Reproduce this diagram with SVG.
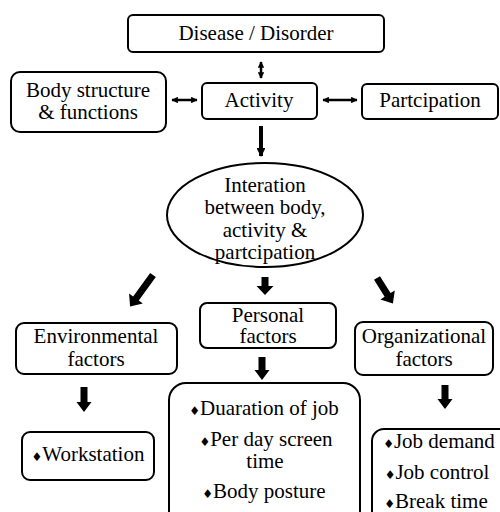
<svg xmlns="http://www.w3.org/2000/svg" width="500" height="512" viewBox="0 0 500 512">
<defs>
<style>
.box{fill:#fff;stroke:#000;stroke-width:2}
.ln{stroke:#000;fill:none}
.blk{fill:#000}
</style>
<marker id="dh" viewBox="0 0 10 10" refX="9" refY="5" markerWidth="2.6" markerHeight="2.6" orient="auto-start-reverse" markerUnits="strokeWidth">
<path d="M0,0 L10,5 L0,10 Z" fill="#000"/>
</marker>
<marker id="dn" viewBox="0 0 10 10" refX="9" refY="5" markerWidth="2.2" markerHeight="2.2" orient="auto" markerUnits="strokeWidth">
<path d="M0,0 L10,5 L0,10 Z" fill="#000"/>
</marker>
</defs>
<rect width="500" height="512" fill="#fff"/>
<g font-family="Liberation Serif, DejaVu Serif, serif" font-size="21" text-anchor="middle" fill="#000">
<g id="disease">
<rect class="box" x="128" y="15" width="256" height="37" rx="5"/>
<text x="256" y="40">Disease / Disorder</text>
</g>
<g id="body">
<rect class="box" x="11" y="72" width="155" height="60" rx="9"/>
<text x="88" y="97">Body structure</text>
<text x="88" y="119">&amp; functions</text>
</g>
<g id="activity">
<rect class="box" x="202" y="83" width="115" height="36" rx="5"/>
<text x="259" y="107">Activity</text>
</g>
<g id="participation">
<rect class="box" x="362" y="84" width="136" height="35" rx="5"/>
<text x="430" y="107">Partcipation</text>
</g>
<g id="interaction">
<ellipse class="box" cx="265" cy="215" rx="98" ry="52"/>
<text x="265" y="192">Interation</text>
<text x="265" y="214">between body,</text>
<text x="265" y="237">activity &amp;</text>
<text x="265" y="259">partcipation</text>
</g>
<g id="environmental">
<rect class="box" x="16" y="323" width="161" height="51" rx="8"/>
<text x="96" y="343">Environmental</text>
<text x="96" y="366">factors</text>
</g>
<g id="personal">
<rect class="box" x="200" y="303" width="136" height="45" rx="7"/>
<text x="268" y="322">Personal</text>
<text x="268" y="343">factors</text>
</g>
<g id="organizational">
<rect class="box" x="355" y="322" width="138" height="53" rx="8"/>
<text x="424" y="343">Organizational</text>
<text x="424" y="366">factors</text>
</g>
<g id="workstation">
<rect class="box" x="22" y="432" width="132" height="48" rx="8"/>
<text x="88" y="461"><tspan font-family="DejaVu Sans, sans-serif" font-size="12">♦</tspan>Workstation</text>
</g>
<g id="personal-items">
<rect class="box" x="169" y="383" width="191" height="150" rx="17"/>
<text x="264" y="415"><tspan font-family="DejaVu Sans, sans-serif" font-size="12">♦</tspan>Duaration of job</text>
<text x="266" y="446"><tspan font-family="DejaVu Sans, sans-serif" font-size="12">♦</tspan>Per day screen</text>
<text x="265" y="468">time</text>
<text x="264" y="498"><tspan font-family="DejaVu Sans, sans-serif" font-size="12">♦</tspan>Body posture</text>
</g>
<g id="org-items">
<rect class="box" x="372" y="429" width="150" height="110" rx="12"/>
<text x="439" y="448"><tspan font-family="DejaVu Sans, sans-serif" font-size="12">♦</tspan>Job demand</text>
<text x="437" y="479"><tspan font-family="DejaVu Sans, sans-serif" font-size="12">♦</tspan>Job control</text>
<text x="436" y="508"><tspan font-family="DejaVu Sans, sans-serif" font-size="12">♦</tspan>Break time</text>
</g>
</g>
<g id="connectors">
<line class="ln" x1="261" y1="62" x2="261" y2="78" stroke-width="2.5" marker-start="url(#dh)" marker-end="url(#dh)"/>
<line class="ln" x1="172" y1="100" x2="197" y2="100" stroke-width="2.5" marker-start="url(#dh)" marker-end="url(#dh)"/>
<line class="ln" x1="323" y1="100" x2="357" y2="100" stroke-width="2.5" marker-start="url(#dh)" marker-end="url(#dh)"/>
<line class="ln" x1="261" y1="126" x2="261" y2="156" stroke-width="4" marker-end="url(#dn)"/>
<polygon class="blk" transform="translate(153,275) rotate(36)" points="-3.5,0 3.5,0 3.5,29 8.5,29 0,39 -8.5,29 -3.5,29"/>
<polygon class="blk" transform="translate(265,277)" points="-3.5,0 3.5,0 3.5,9 8.5,9 0,18 -8.5,9 -3.5,9"/>
<polygon class="blk" transform="translate(377,278) rotate(-32)" points="-3.5,0 3.5,0 3.5,20 8.5,20 0,30 -8.5,20 -3.5,20"/>
<polygon class="blk" transform="translate(84,387)" points="-3.5,0 3.5,0 3.5,15 7.5,15 0,25 -7.5,15 -3.5,15"/>
<polygon class="blk" transform="translate(262,357)" points="-3.5,0 3.5,0 3.5,13 7.5,13 0,23 -7.5,13 -3.5,13"/>
<polygon class="blk" transform="translate(445,385)" points="-3.5,0 3.5,0 3.5,14 7.5,14 0,24 -7.5,14 -3.5,14"/>
</g>
</svg>
